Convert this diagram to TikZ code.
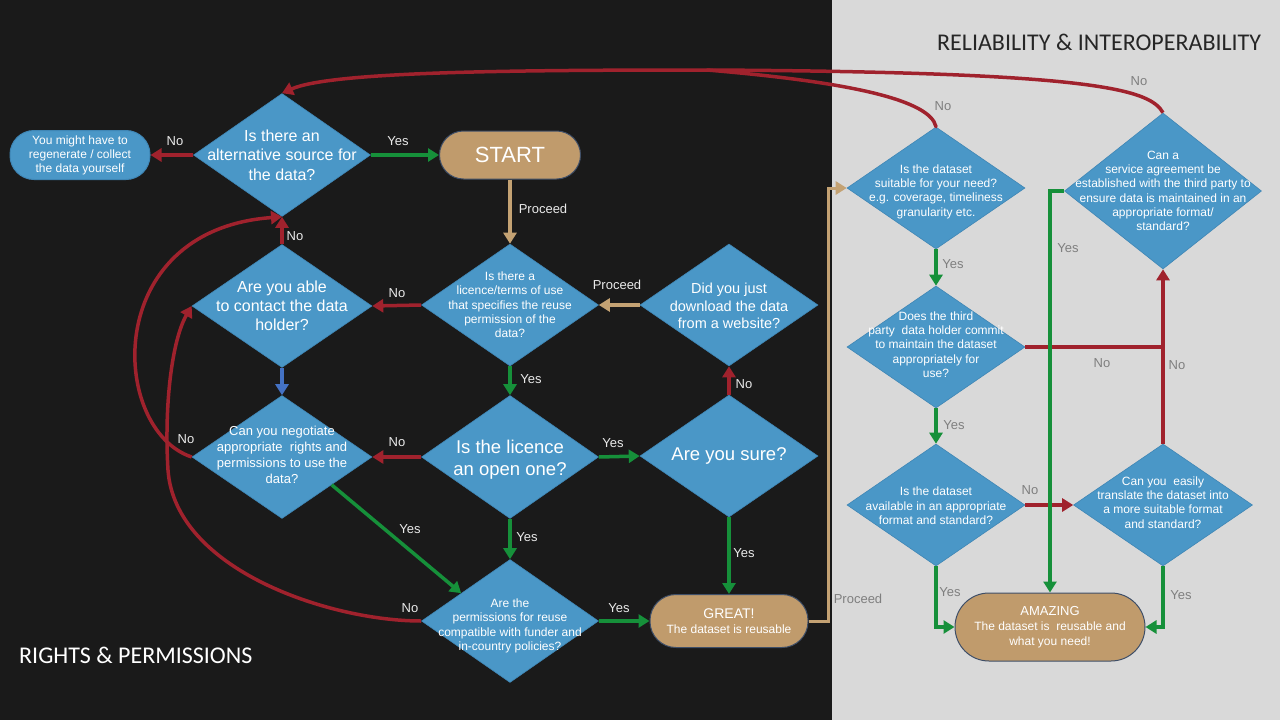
\documentclass[tikz,border=0pt]{standalone}
\usepackage{fontspec}
\setmainfont{Liberation Sans}
\newfontfamily\calib{Carlito}
\usetikzlibrary{shapes.geometric,arrows.meta,calc}
\definecolor{bgdark}{HTML}{1A1A1A}
\definecolor{bglight}{HTML}{D9D9D9}
\definecolor{dblue}{HTML}{4A97C7}
\definecolor{dblueD}{HTML}{3F86B5}
\definecolor{tanF}{HTML}{C09B6C}
\definecolor{pillD}{HTML}{3F4F68}
\definecolor{redC}{HTML}{A0222D}
\definecolor{greenC}{HTML}{16903A}
\definecolor{blueC}{HTML}{4472C4}
\definecolor{tanC}{HTML}{C4A273}
\definecolor{lblL}{HTML}{EAEAEA}
\definecolor{lblD}{HTML}{7F7F7F}
\definecolor{ttlD}{HTML}{262626}
\newcommand{\fs}[2]{\fontsize{#1}{#2}\selectfont}
\newcommand{\mkdiam}[7]{%
  \node[diam, minimum width=#3pt, minimum height=#4pt] (#1) at (#2) {};
  \node[dtext, font=#5] (#1t) at ([yshift=#6pt]#1.center) {#7};}
\tikzset{
  diam/.style={shape=diamond, fill=dblue, draw=dblueD, line width=0.6pt, inner sep=0pt},
  dtext/.style={text=white, align=center, inner sep=0pt},
  pill/.style={fill=tanF, draw=pillD, line width=1pt, text=white, align=center, inner sep=0pt},
  bpill/.style={fill=dblue, draw=dblueD, line width=1pt, text=white, align=center, inner sep=0pt},
  arr/.style={line width=3.5pt, -{Triangle[length=11pt,width=13pt]}},
  plain/.style={line width=3.5pt},
  redA/.style={arr, draw=redC, color=redC},
  redL/.style={plain, draw=redC, line cap=round},
  greenA/.style={arr, draw=greenC, color=greenC},
  blueA/.style={arr, draw=blueC, color=blueC},
  tanA/.style={arr, draw=tanC, color=tanC},
  lbl/.style={font=\fs{13}{15}, text=lblL, inner sep=0pt},
  lbld/.style={font=\fs{13}{15}, text=lblD, inner sep=0pt}
}
\begin{document}
\begin{tikzpicture}[x=1pt,y=-1pt]
\fill[bgdark] (0,0) rectangle (832,720);
\fill[bglight] (832,0) rectangle (1280,720);
\useasboundingbox (0,0) rectangle (1280,720);

% titles
\node[anchor=west, font=\calib\fs{24}{28}, text=ttlD, inner sep=0pt] (ttlR) at (937,42) {RELIABILITY \& INTEROPERABILITY};
\node[anchor=west, font=\calib\fs{24}{28}, text=white, inner sep=0pt] (ttlL) at (19,655) {RIGHTS \& PERMISSIONS};

% left side nodes
\mkdiam{alt}{282,155}{177}{123}{\fs{16}{19.5}}{0}{Is there an\\alternative source for\\the data?}
\node[bpill, minimum width=140pt, minimum height=49pt, rounded corners=24pt, font=\fs{12}{14}] (regen) at (80,155) {You might have to\\regenerate / collect\\the data yourself};
\node[pill, minimum width=141pt, minimum height=48pt, rounded corners=24pt, font=\fs{22}{24}] (start) at (510,155) {START};
\mkdiam{lic}{510,305}{177}{122}{\fs{12}{14.3}}{0}{Is there a\\licence/terms of use\\that specifies the reuse\\permission of the\\data?}
\mkdiam{dl}{729,305}{178}{122}{\fs{14.5}{17.5}}{-1}{Did you just\\download the data\\from a website?}
\mkdiam{contact}{282,306}{180}{123}{\fs{16}{19}}{0}{Are you able\\to contact the data\\holder?}
\mkdiam{neg}{282,457}{180}{123}{\fs{13}{16}}{2}{Can you negotiate\\appropriate\ \ rights and\\permissions to use the\\data?}
\mkdiam{open}{510,457}{177}{123}{\fs{18.5}{22}}{-3}{Is the licence\\an open one?}
\mkdiam{sure}{729,456}{178}{122}{\fs{18.5}{22}}{0}{Are you sure?}
\mkdiam{perm}{510,621}{177}{123}{\fs{12}{14.5}}{-5}{Are the\\permissions for reuse\\compatible with funder and\\in-country policies?}
\node[pill, minimum width=158pt, minimum height=53pt, rounded corners=26pt, font=\fs{12}{15}] (great) at (729,621) {{\fs{14}{15}GREAT!}\\The dataset is reusable};

% right side nodes
\mkdiam{suit}{936,188}{178}{122}{\fs{12}{14.3}}{-3.5}{Is the dataset\\suitable for your need?\\e.g. coverage, timeliness\\granularity etc.}
\mkdiam{serv}{1163,191}{197}{156}{\fs{12}{14.3}}{0}{Can a\\service agreement be\\established with the third party to\\ensure data is maintained in an\\appropriate format/\\standard?}
\mkdiam{third}{936,347}{178}{122}{\fs{12}{14.3}}{2.5}{Does the third\\party\ \ data holder commit\\to maintain the dataset\\appropriately for\\use?}
\mkdiam{avail}{936,505}{178}{122}{\fs{12}{14.3}}{-1}{Is the dataset\\available in an appropriate\\format and standard?}
\mkdiam{trans}{1163,505}{179}{122}{\fs{12}{14.3}}{2.5}{Can you\ \ easily\\translate the dataset into\\a more suitable format\\and standard?}
\node[pill, minimum width=190pt, minimum height=68pt, rounded corners=34pt, font=\fs{12}{15}] (amaz) at (1050,627) {{\fs{13}{15}AMAZING}\\The dataset is\ \ reusable and\\what you need!};

% left side connectors
\draw[redA] (alt.west) -- (regen.east);
\draw[greenA] (alt.east) -- (start.west);
\draw[tanA] (start.south) -- (lic.north);
\draw[tanA] (dl.west) -- (lic.east);
\draw[redA] (lic.west) -- (contact.east);
\draw[redA] (contact.north) -- (alt.south);
\draw[blueA] (contact.south) -- (neg.north);
\draw[greenA] (lic.south) -- (open.north);
\draw[redA] (open.west) -- (neg.east);
\draw[greenA] (open.east) -- (sure.west);
\draw[redA] (sure.north) -- (dl.south);
\draw[greenA] (sure.south) -- (great.north);
\draw[greenA] (open.south) -- (perm.north);
\draw[greenA] ($(neg.east)!0.45!(neg.south)$) -- ($(perm.west)!0.45!(perm.north)$);
\draw[greenA] (perm.east) -- (great.west);
\draw[redA] (neg.west) .. controls (110,430) and (100,230) .. (alt.south);
\draw[redA] (perm.west) .. controls (330,621) and (175,570) .. (168,470) .. controls (164,405) and (172,340) .. (contact.west);
\draw[tanA, line width=3pt] (great.east) -- ++(20,0) |- (suit.west);

% top return curves
\coordinate (m) at (707,70);
\draw[redL] (suit.north) .. controls (930,100) and (850,82) .. (m);
\draw[redA] (serv.north) .. controls (1150,90) and (1100,72) .. (m) .. controls (500,70) and (330,72) .. (alt.north);

% right side connectors
\draw[greenA] (suit.south) -- (third.north);
\draw[greenA] (third.south) -- (avail.north);
\draw[redL, line cap=butt] (third.east) -- (third.east -| trans.north);
\draw[redA] (trans.north) -- (serv.south);
\draw[redA] (avail.east) -- (trans.west);
\draw[greenA] (avail.south) |- (amaz.west);
\draw[greenA] (trans.south) |- (amaz.east);
\draw[greenA] (serv.west) -| (amaz.north);

% labels left
\node[lbl] (n1) at (175,141) {No};
\node[lbl] (n2) at (398,141) {Yes};
\node[lbl] (n3) at (543,209) {Proceed};
\node[lbl] (n4) at (617,285) {Proceed};
\node[lbl] (n5) at (397,293) {No};
\node[lbl] (n6) at (295,236) {No};
\node[lbl] (n7) at (531,379) {Yes};
\node[lbl] (n8) at (397,442) {No};
\node[lbl] (n9) at (613,443) {Yes};
\node[lbl] (n10) at (744,384) {No};
\node[lbl] (n11) at (744,553) {Yes};
\node[lbl] (n12) at (527,537) {Yes};
\node[lbl] (n13) at (410,529) {Yes};
\node[lbl] (n14) at (186,439) {No};
\node[lbl] (n15) at (410,608) {No};
\node[lbl] (n16) at (619,608) {Yes};
% labels right
\node[lbld] (r1) at (858,599) {Proceed};
\node[lbld] (r2) at (943,106) {No};
\node[lbld] (r3) at (1139,81) {No};
\node[lbld] (r4) at (953,264) {Yes};
\node[lbld] (r5) at (954,425) {Yes};
\node[lbld] (r6) at (1102,363) {No};
\node[lbld] (r7) at (1177,365) {No};
\node[lbld] (r8) at (1030,490) {No};
\node[lbld] (r9) at (950,592) {Yes};
\node[lbld] (r10) at (1181,595) {Yes};
\node[lbld] (r11) at (1068,248) {Yes};
\end{tikzpicture}
\end{document}
